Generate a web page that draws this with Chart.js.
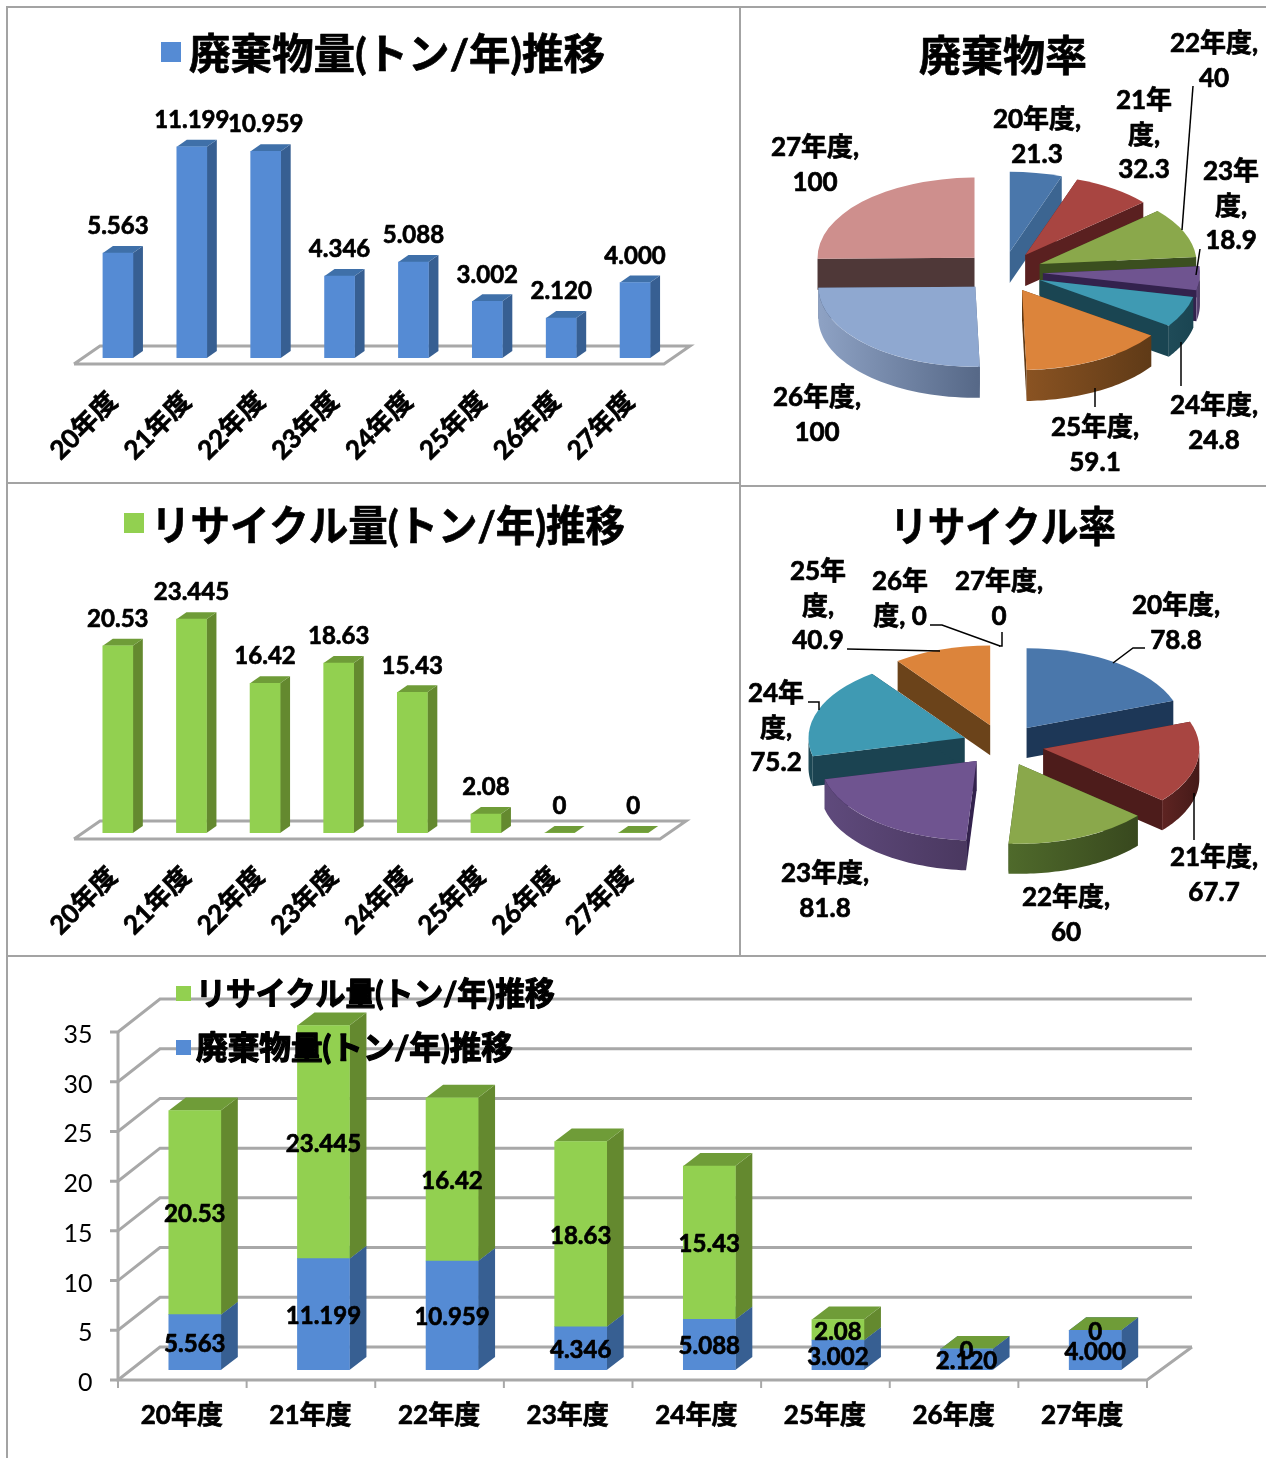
<!DOCTYPE html>
<html lang="ja">
<head>
<meta charset="utf-8">
<title>廃棄物量・リサイクル量推移</title>
<script src="https://cdn.jsdelivr.net/npm/chart.js@4"></script>
<style>
  body { margin: 0; background: #fff; }
  #page { position: relative; width: 1266px; height: 1458px; overflow: hidden; }
  canvas { position: absolute; }
  .rule { position: absolute; background: #a3a3a3; }
</style>
</head>
<body>
<div id="page">
  <div class="rule" style="left:6px;top:6px;width:1260px;height:2px"></div>
  <div class="rule" style="left:6px;top:6px;width:2px;height:1452px"></div>
  <div class="rule" style="left:739px;top:6px;width:2px;height:950px"></div>
  <div class="rule" style="left:6px;top:482px;width:734px;height:2px"></div>
  <div class="rule" style="left:740px;top:485px;width:526px;height:2px"></div>
  <div class="rule" style="left:6px;top:955px;width:1260px;height:2px"></div>
  <canvas id="wasteBar" width="766" height="483" style="left:0;top:0"></canvas>
  <canvas id="recycleBar" width="749" height="472" style="left:0;top:483px"></canvas>
  <canvas id="wastePie" width="526" height="476" style="left:740px;top:7px"></canvas>
  <canvas id="recyclePie" width="526" height="469" style="left:740px;top:486px"></canvas>
  <canvas id="stackBar" width="1266" height="503" style="left:0;top:955px"></canvas>
</div>
<script>
const years = ['20年度', '21年度', '22年度', '23年度', '24年度', '25年度', '26年度', '27年度'];
const wasteAmount = [5.563, 11.199, 10.959, 4.346, 5.088, 3.002, 2.120, 4.000];
const recycleAmount = [20.53, 23.445, 16.42, 18.63, 15.43, 2.08, 0, 0];
const wasteRate = [21.3, 32.3, 40, 18.9, 24.8, 59.1, 100, 100];
const recycleRate = [78.8, 67.7, 60, 81.8, 75.2, 40.9, 0, 0];

const wasteName = '廃棄物量(トン/年)推移';
const recycleName = 'リサイクル量(トン/年)推移';

const FONT = 'Lato, "Noto Sans CJK JP", sans-serif';
const BLUE = { front: '#558bd4', side: '#375f92', top: '#3f70a9' };
const GREEN = { front: '#92d050', side: '#64892f', top: '#6f9c38' };
const GRID = '#a8a8a8';

const pieTop = ['#4a77ab', '#a84541', '#8aa84b', '#6f5490', '#3f9ab3', '#dc843b', '#8fa8d0', '#ce8f8d'];
const pieWallLight = ['#3c6591', '#5e2422', '#4f6a2b', '#5f4a7c', '#1f4b58', '#8a5322', '#8ea2c4', '#6f4a48'];
const pieWallDark = ['#1f3a5c', '#451a18', '#38481e', '#4a3860', '#1a4552', '#5f3a17', '#566887', '#4f3838'];
const wasteRateSide = ['#3c6591', '#5a2020', '#3b4f1f', '#33224d', '#1a4552', '#5f3a17', '#566887', '#4f3838'];
const recycleRateSide = ['#1d3757', '#4d1c1b', '#3b4f1f', '#33224d', '#1b4351', '#6b431a', '#566887', '#4f3838'];

// heavy: outline width that thickens the bold face, fit: squeeze to this width
const txt = (ctx, s, x, y, font, opts = {}) => {
  ctx.font = font;
  ctx.fillStyle = '#000';
  ctx.strokeStyle = '#000';
  ctx.lineWidth = opts.heavy || 0.7;
  ctx.lineJoin = 'round';
  ctx.textAlign = opts.align || 'center';
  ctx.textBaseline = 'middle';
  ctx.strokeText(s, x, y, opts.fit);
  ctx.fillText(s, x, y, opts.fit);
};

const para = (ctx, pts, color) => {
  ctx.beginPath();
  pts.forEach((p, i) => (i ? ctx.lineTo(p[0], p[1]) : ctx.moveTo(p[0], p[1])));
  ctx.closePath();
  ctx.fillStyle = color;
  ctx.fill();
};

const polyline = (ctx, pts, color, width) => {
  ctx.beginPath();
  pts.forEach((p, i) => (i ? ctx.lineTo(p[0], p[1]) : ctx.moveTo(p[0], p[1])));
  ctx.strokeStyle = color;
  ctx.lineWidth = width;
  ctx.stroke();
};

// side and top faces of every bar, from the bar elements of the library
const drawBarFaces = (chart, dx, dy) => {
  const { ctx } = chart;
  chart.data.datasets.forEach((ds, di) => {
    chart.getDatasetMeta(di).data.forEach((bar) => {
      const l = bar.x - bar.width / 2;
      const r = bar.x + bar.width / 2;
      if (bar.base - bar.y > 0.5) {
        para(ctx, [[r, bar.y], [r + dx, bar.y - dy], [r + dx, bar.base - dy], [r, bar.base]], ds.faces.side);
      }
      para(ctx, [[l, bar.y], [l + dx, bar.y - dy], [r + dx, bar.y - dy], [r, bar.y]], ds.faces.top);
    });
  });
};

const barPlugin = (cfg) => ({
  id: 'bar3d',
  beforeDatasetsDraw(chart) {
    const { ctx } = chart;
    const base = chart.chartArea.bottom;
    const f = cfg.floor;
    polyline(ctx, [
      [f.left, base + 6], [f.left + f.back, base - 12], [f.right, base - 12], [f.right - f.back, base + 6], [f.left, base + 6],
    ], GRID, 3);
    drawBarFaces(chart, 10, 7);
  },
  afterDatasetsDraw(chart) {
    const { ctx } = chart;
    chart.getDatasetMeta(0).data.forEach((bar, i) => {
      txt(ctx, cfg.labels[i], bar.x, bar.y - 26.5, `bold 24px ${FONT}`);
    });
    ctx.fillStyle = cfg.faces.front;
    ctx.fillRect(cfg.box[0], cfg.box[1], 20, 20);
    txt(ctx, cfg.name, cfg.text[0], cfg.text[1], `bold 42px ${FONT}`, { align: 'left', fit: cfg.text[2] });
  },
});

const barChart = (id, values, faces, labels, max, cfg) => new Chart(document.getElementById(id), {
  type: 'bar',
  data: {
    labels: years,
    datasets: [{ label: cfg.name, data: values, backgroundColor: faces.front, barThickness: 30, faces }],
  },
  options: {
    responsive: false,
    animation: false,
    layout: { padding: { left: 81, right: cfg.right, top: cfg.top, bottom: 0 } },
    plugins: { legend: { display: false }, tooltip: { enabled: false } },
    scales: {
      y: { display: false, min: 0, max },
      x: {
        grid: { display: false },
        border: { display: false },
        ticks: {
          autoSkip: false,
          minRotation: 45,
          maxRotation: 45,
          color: '#000',
          padding: 20,
          labelOffset: -5,
          textStrokeColor: '#000',
          textStrokeWidth: 0.7,
          font: { family: FONT, size: 26, weight: 'bold' },
        },
        afterFit(s) { s.height = cfg.axisHeight; },
      },
    },
  },
  plugins: [barPlugin({ ...cfg, labels, faces })],
});

barChart('wasteBar', wasteAmount, BLUE, wasteAmount.map((v) => v.toFixed(3)), 15, {
  name: wasteName, box: [161, 42], text: [189, 55, 416], right: 94, top: 75, axisHeight: 125,
  floor: { left: 74, right: 690, back: 26 },
});
barChart('recycleBar', recycleAmount, GREEN, recycleAmount.map(String), 30, {
  name: recycleName, box: [124, 30], text: [151, 44, 474], right: 79, top: 76.4, axisHeight: 122,
  floor: { left: 74, right: 686, back: 26 },
});

// pies: the arcs come from the doughnut controller, the plugin tilts and extrudes them
const TILT = 0.51;

const pieLabels = (lines, x, y) => ({ lines, x, y });
const wasteRateLabels = [
  pieLabels(['20年度,', '21.3'], 297, 112),
  pieLabels(['21年', '度,', '32.3'], 404, 93),
  pieLabels(['22年度,', '40'], 474, 36),
  pieLabels(['23年', '度,', '18.9'], 491, 164),
  pieLabels(['24年度,', '24.8'], 474, 398),
  pieLabels(['25年度,', '59.1'], 355, 420),
  pieLabels(['26年度,', '100'], 77, 390),
  pieLabels(['27年度,', '100'], 75, 140),
];
const wasteRateLeaders = [
  [[453, 79], [442, 223]],
  [[460, 242], [456, 268]],
  [[441, 335], [441, 379]],
  [[355, 381], [355, 400]],
];
const recycleRateLabels = [
  pieLabels(['20年度,', '78.8'], 436, 119),
  pieLabels(['21年度,', '67.7'], 474, 371),
  pieLabels(['22年度,', '60'], 326, 411),
  pieLabels(['23年度,', '81.8'], 85, 387),
  pieLabels(['24年', '度,', '75.2'], 36, 207),
  pieLabels(['25年', '度,', '40.9'], 78, 85),
  pieLabels(['26年', '度, 0'], 160, 95),
  pieLabels(['27年度,', '0'], 259, 95),
];
const recycleRateLeaders = [
  [[373, 177], [393, 162], [405, 162]],
  [[454, 307], [454, 354]],
  [[107, 163], [200, 165]],
  [[190, 139], [202, 139], [260, 160]],
  [[262, 146], [262, 160], [259, 160]],
  [[68, 216], [79, 216], [79, 224]],
];

const drawSlice = (ctx, arc, i, cfg, center) => {
  const { startAngle: a0, endAngle: a1, outerRadius: r, options } = arc;
  const mid = (a0 + a1) / 2;
  const cx = center.x + Math.cos(mid) * options.offset;
  const cy = center.y + Math.sin(mid) * options.offset * TILT;
  const d = cfg.depth;
  const at = (t, dz) => [cx + r * Math.cos(t), cy + r * TILT * Math.sin(t) + dz];

  [a0, a1].forEach((t) => {
    para(ctx, [[cx, cy], at(t, 0), at(t, d), [cx, cy + d]], cfg.side[i]);
  });

  // curved wall, only where the rim faces the viewer
  const from = Math.max(a0, 0);
  const to = Math.min(a1, Math.PI);
  if (to > from) {
    const pts = [];
    for (let k = 0; k <= 40; k += 1) pts.push(at(from + ((to - from) * k) / 40, 0));
    for (let k = 40; k >= 0; k -= 1) pts.push(at(from + ((to - from) * k) / 40, d));
    const left = at(to, 0)[0];
    const right = at(from, 0)[0];
    const grad = ctx.createLinearGradient(left, 0, right, 0);
    grad.addColorStop(0, pieWallLight[i]);
    grad.addColorStop(1, pieWallDark[i]);
    para(ctx, pts, grad);
  }

  ctx.beginPath();
  ctx.moveTo(cx, cy);
  ctx.ellipse(cx, cy, r, r * TILT, 0, a0, a1);
  ctx.closePath();
  ctx.fillStyle = pieTop[i];
  ctx.fill();
};

const piePlugin = (cfg) => ({
  id: 'pie3d',
  beforeDatasetsDraw(chart) {
    const { ctx } = chart;
    const arcs = chart.getDatasetMeta(0).data;
    const center = { x: arcs[0].x, y: arcs[0].y };
    arcs
      .map((arc, i) => ({ arc, i, mid: (arc.startAngle + arc.endAngle) / 2 }))
      .filter((s) => s.arc.endAngle - s.arc.startAngle > 0)
      .sort((a, b) => Math.sin(a.mid) - Math.sin(b.mid))
      .forEach((s) => drawSlice(ctx, s.arc, s.i, cfg, center));
    cfg.leaders.forEach((pts) => polyline(ctx, pts, '#000', 1.5));
    cfg.labels.forEach((lab) => {
      lab.lines.forEach((line, n) => {
        txt(ctx, line, lab.x, lab.y + 1 + n * 34.3, `bold 26px ${FONT}`);
      });
    });
    txt(ctx, cfg.title, 263, cfg.titleY, `bold 42px ${FONT}`, { fit: cfg.titleFit });
    return false;
  },
});

const pieChart = (id, values, radius, offset, padding, cfg) => new Chart(document.getElementById(id), {
  type: 'pie',
  data: { labels: years, datasets: [{ data: values, backgroundColor: pieTop, offset, borderWidth: 0 }] },
  options: {
    responsive: false,
    animation: false,
    radius,
    layout: { padding },
    plugins: { legend: { display: false }, tooltip: { enabled: false } },
  },
  plugins: [piePlugin(cfg)],
});

pieChart('wastePie', wasteRate, 157, 40, { left: 60, right: 60, top: 60, bottom: 6 }, {
  title: '廃棄物率', titleY: 50, titleFit: 170, depth: 31, side: wasteRateSide, labels: wasteRateLabels, leaders: wasteRateLeaders,
});
pieChart('recyclePie', recycleRate, 156, 41, { left: 60, right: 60, top: 60, bottom: 11 }, {
  title: 'リサイクル率', titleY: 42, titleFit: 226, depth: 30, side: recycleRateSide, labels: recycleRateLabels, leaders: recycleRateLeaders,
});

// stacked chart with a 3D wall
const stackPlugin = {
  id: 'stack3d',
  beforeDatasetsDraw(chart) {
    const { ctx, scales } = chart;
    const axisX = 118;
    const backX = 160;
    scales.y.ticks.forEach((t) => {
      const y = scales.y.getPixelForValue(t.value);
      polyline(ctx, [[axisX - 8, y + 10], [axisX, y + 10], [backX, y - 23], [1192, y - 23]], GRID, 3);
    });
    const y0 = scales.y.getPixelForValue(0);
    polyline(ctx, [[axisX, scales.y.getPixelForValue(35) + 10], [axisX, y0 + 10], [1147, y0 + 10], [1192, y0 - 23]], GRID, 3);
    for (let i = 0; i <= years.length; i += 1) {
      const x = axisX + (i * (1147 - axisX)) / years.length;
      polyline(ctx, [[x, y0 + 10], [x, y0 + 18]], GRID, 2);
    }
    drawBarFaces(chart, 17, 13);
  },
  afterDatasetsDraw(chart) {
    const { ctx } = chart;
    const strs = [wasteAmount.map((v) => v.toFixed(3)), recycleAmount.map(String)];
    chart.data.datasets.forEach((ds, di) => {
      chart.getDatasetMeta(di).data.forEach((bar, i) => {
        txt(ctx, strs[di][i], bar.x, (bar.y + bar.base) / 2 + 2, `bold 24px ${FONT}`);
      });
    });
    ctx.fillStyle = GREEN.front;
    ctx.fillRect(176, 31, 15, 15);
    txt(ctx, recycleName, 196, 40, `bold 32px ${FONT}`, { align: 'left', fit: 359, heavy: 1.3 });
    ctx.fillStyle = BLUE.front;
    ctx.fillRect(176, 85, 15, 15);
    txt(ctx, wasteName, 196, 94, `bold 32px ${FONT}`, { align: 'left', fit: 317, heavy: 1.3 });
  },
};

new Chart(document.getElementById('stackBar'), {
  type: 'bar',
  data: {
    labels: years,
    datasets: [
      { label: wasteName, data: wasteAmount, backgroundColor: BLUE.front, barThickness: 52, faces: BLUE },
      { label: recycleName, data: recycleAmount, backgroundColor: GREEN.front, barThickness: 52, faces: GREEN },
    ],
  },
  options: {
    responsive: false,
    animation: false,
    layout: { padding: { left: 0, right: 106.5, top: 67, bottom: 0 } },
    plugins: { legend: { display: false }, tooltip: { enabled: false } },
    scales: {
      x: {
        stacked: true,
        grid: { display: false },
        border: { display: false },
        ticks: {
          color: '#000',
          labelOffset: -13,
          padding: 22,
          maxRotation: 0,
          textStrokeColor: '#000',
          textStrokeWidth: 0.7,
          font: { family: FONT, size: 26, weight: 'bold' },
        },
        afterFit(s) { s.height = 88; },
      },
      y: {
        stacked: true,
        min: 0,
        max: 35,
        grid: { display: false },
        border: { display: false },
        ticks: { stepSize: 5, color: '#000', labelOffset: 13, padding: 30, font: { family: FONT, size: 25 } },
        afterFit(s) { s.width = 130.5; },
      },
    },
  },
  plugins: [stackPlugin],
});
</script>
</body>
</html>
